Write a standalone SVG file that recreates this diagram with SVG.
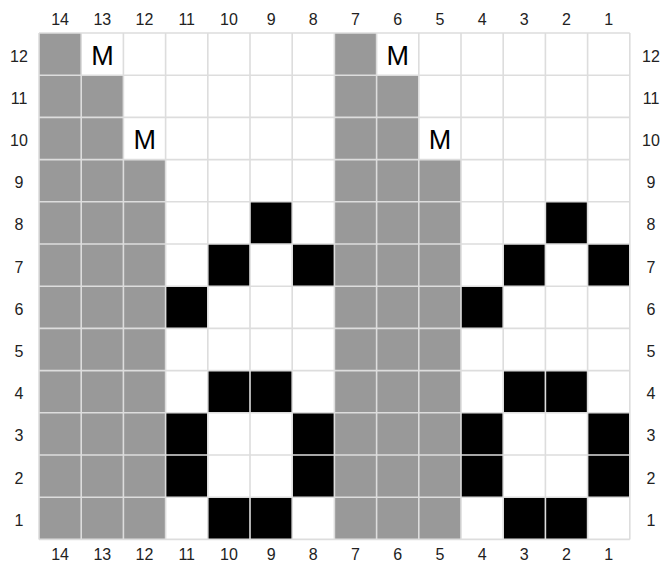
<svg xmlns="http://www.w3.org/2000/svg" width="663" height="562" viewBox="0 0 663 562">
<style>
.g{fill:#999999}
.k{fill:#000000}
.lbl{font-family:"Liberation Sans",Arial,sans-serif;font-size:16px;fill:#222;text-anchor:middle;dominant-baseline:central}
.m{font-family:"Liberation Sans",Arial,sans-serif;font-size:27px;fill:#000;text-anchor:middle;dominant-baseline:central}
.grid{stroke:#dddddd;stroke-width:1.6;fill:none}
</style>
<rect width="663" height="562" fill="#ffffff"/>
<g id="cells">
<rect class="g" x="39" y="33" width="42.2" height="506.4"/>
<rect class="g" x="81.2" y="75.2" width="42.2" height="464.2"/>
<rect class="g" x="123.4" y="159.6" width="42.2" height="379.8"/>
<rect class="g" x="334.4" y="33" width="42.2" height="506.4"/>
<rect class="g" x="376.6" y="75.2" width="42.2" height="464.2"/>
<rect class="g" x="418.8" y="159.6" width="42.2" height="379.8"/>
<rect class="k" x="250" y="201.8" width="42.2" height="42.2"/>
<rect class="k" x="207.8" y="244" width="42.2" height="42.2"/>
<rect class="k" x="292.2" y="244" width="42.2" height="42.2"/>
<rect class="k" x="165.6" y="286.2" width="42.2" height="42.2"/>
<rect class="k" x="207.8" y="370.6" width="84.4" height="42.2"/>
<rect class="k" x="165.6" y="412.8" width="42.2" height="84.4"/>
<rect class="k" x="292.2" y="412.8" width="42.2" height="84.4"/>
<rect class="k" x="207.8" y="497.2" width="84.4" height="42.2"/>
<rect class="k" x="545.4" y="201.8" width="42.2" height="42.2"/>
<rect class="k" x="503.2" y="244" width="42.2" height="42.2"/>
<rect class="k" x="587.6" y="244" width="42.2" height="42.2"/>
<rect class="k" x="461" y="286.2" width="42.2" height="42.2"/>
<rect class="k" x="503.2" y="370.6" width="84.4" height="42.2"/>
<rect class="k" x="461" y="412.8" width="42.2" height="84.4"/>
<rect class="k" x="587.6" y="412.8" width="42.2" height="84.4"/>
<rect class="k" x="503.2" y="497.2" width="84.4" height="42.2"/>
</g>
<g id="grid">
<path class="grid" d="M39 33V539.4M81.2 33V539.4M123.4 33V539.4M165.6 33V539.4M207.8 33V539.4M250 33V539.4M292.2 33V539.4M334.4 33V539.4M376.6 33V539.4M418.8 33V539.4M461 33V539.4M503.2 33V539.4M545.4 33V539.4M587.6 33V539.4M629.8 33V539.4"/>
<path class="grid" d="M39 33H629.8M39 75.2H629.8M39 117.4H629.8M39 159.6H629.8M39 201.8H629.8M39 244H629.8M39 286.2H629.8M39 328.4H629.8M39 370.6H629.8M39 412.8H629.8M39 455H629.8M39 497.2H629.8M39 539.4H629.8"/>
</g>
<g id="marks">
<text class="m" x="102.6" y="55.5">M</text>
<text class="m" x="397.8" y="55.5">M</text>
<text class="m" x="144.8" y="139.5">M</text>
<text class="m" x="440" y="139.5">M</text>
</g>
<g id="col-labels-top">
<text class="lbl" x="60.1" y="19.5">14</text>
<text class="lbl" x="102.3" y="19.5">13</text>
<text class="lbl" x="144.5" y="19.5">12</text>
<text class="lbl" x="186.7" y="19.5">11</text>
<text class="lbl" x="228.9" y="19.5">10</text>
<text class="lbl" x="271.1" y="19.5">9</text>
<text class="lbl" x="313.3" y="19.5">8</text>
<text class="lbl" x="355.5" y="19.5">7</text>
<text class="lbl" x="397.7" y="19.5">6</text>
<text class="lbl" x="439.9" y="19.5">5</text>
<text class="lbl" x="482.1" y="19.5">4</text>
<text class="lbl" x="524.3" y="19.5">3</text>
<text class="lbl" x="566.5" y="19.5">2</text>
<text class="lbl" x="608.7" y="19.5">1</text>
</g>
<g id="col-labels-bottom">
<text class="lbl" x="60.1" y="554.5">14</text>
<text class="lbl" x="102.3" y="554.5">13</text>
<text class="lbl" x="144.5" y="554.5">12</text>
<text class="lbl" x="186.7" y="554.5">11</text>
<text class="lbl" x="228.9" y="554.5">10</text>
<text class="lbl" x="271.1" y="554.5">9</text>
<text class="lbl" x="313.3" y="554.5">8</text>
<text class="lbl" x="355.5" y="554.5">7</text>
<text class="lbl" x="397.7" y="554.5">6</text>
<text class="lbl" x="439.9" y="554.5">5</text>
<text class="lbl" x="482.1" y="554.5">4</text>
<text class="lbl" x="524.3" y="554.5">3</text>
<text class="lbl" x="566.5" y="554.5">2</text>
<text class="lbl" x="608.7" y="554.5">1</text>
</g>
<g id="row-labels-left">
<text class="lbl" x="19" y="56">12</text>
<text class="lbl" x="19" y="98.2">11</text>
<text class="lbl" x="19" y="140.4">10</text>
<text class="lbl" x="19" y="182.6">9</text>
<text class="lbl" x="19" y="224.8">8</text>
<text class="lbl" x="19" y="267">7</text>
<text class="lbl" x="19" y="309.2">6</text>
<text class="lbl" x="19" y="351.4">5</text>
<text class="lbl" x="19" y="393.6">4</text>
<text class="lbl" x="19" y="435.8">3</text>
<text class="lbl" x="19" y="478">2</text>
<text class="lbl" x="19" y="520.2">1</text>
</g>
<g id="row-labels-right">
<text class="lbl" x="651" y="56">12</text>
<text class="lbl" x="651" y="98.2">11</text>
<text class="lbl" x="651" y="140.4">10</text>
<text class="lbl" x="651" y="182.6">9</text>
<text class="lbl" x="651" y="224.8">8</text>
<text class="lbl" x="651" y="267">7</text>
<text class="lbl" x="651" y="309.2">6</text>
<text class="lbl" x="651" y="351.4">5</text>
<text class="lbl" x="651" y="393.6">4</text>
<text class="lbl" x="651" y="435.8">3</text>
<text class="lbl" x="651" y="478">2</text>
<text class="lbl" x="651" y="520.2">1</text>
</g>
</svg>
